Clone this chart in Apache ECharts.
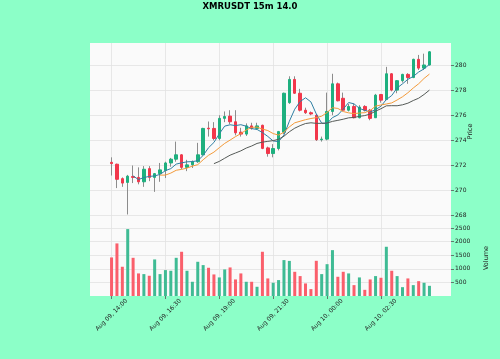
<!DOCTYPE html>
<html><head><meta charset="utf-8">
<script src="https://cdn.jsdelivr.net/npm/echarts@6/dist/echarts.min.js"></script>
<style>html,body{margin:0;padding:0;background:#8cffc8;}#c{width:500px;height:359px;}</style>
</head><body><div id="c"></div>
<script>
const chartTitle = 'XMRUSDT 15m 14.0';
const tickLabels = ['Aug 09, 14:00','Aug 09, 16:30','Aug 09, 19:00','Aug 09, 21:30','Aug 10, 00:00','Aug 10, 02:30'];
const tickBars = [0,10,20,30,40,50];
const opens = [272.25,272.1,270.95,270.65,271.12,271.05,270.7,271.75,271.05,271.35,
271.6,272.2,272.5,272.85,271.85,272.05,272.3,272.85,274.97,274.95,
274.15,275.75,275.93,275.48,274.65,274.5,275.15,274.95,275.2,273.4,
272.95,273.35,274.65,277.0,278.85,277.75,276.4,276.2,276.0,274.05,
274.1,276.3,278.5,277.35,276.4,276.7,275.8,276.7,276.4,275.8,
277.65,277.25,279.3,278.0,278.75,279.25,279.0,280.45,279.75,280.0];
const closes = [272.15,270.9,270.6,271.15,271.05,270.7,271.7,271.05,271.35,271.65,
272.2,272.5,272.85,271.85,272.05,272.3,272.85,274.95,274.92,274.15,
275.75,275.9,275.48,274.6,274.5,275.15,274.95,275.15,273.36,272.95,
273.35,274.7,277.75,278.85,277.75,276.4,276.2,276.1,274.05,274.1,
276.3,278.5,277.15,276.4,276.7,275.8,276.65,276.4,275.75,277.6,
277.2,279.3,278.0,278.75,279.25,279.0,280.45,279.75,280.0,281.05];
const highs = [272.65,272.15,271.05,271.25,272.0,271.85,271.95,271.95,271.4,272.2,
272.3,272.6,273.9,272.9,272.45,272.4,273.8,275.0,275.5,275.45,
276.0,276.3,276.4,276.4,275.0,275.35,275.4,275.4,275.25,273.5,
273.7,274.75,277.8,279.1,279.1,278.1,276.6,276.3,276.1,274.3,
277.8,279.3,278.6,277.8,276.9,276.9,276.8,276.8,276.5,277.7,
277.7,279.85,279.35,278.8,279.3,279.35,280.5,280.8,280.9,281.1];
const lows = [271.2,270.2,270.3,268.1,270.6,270.5,270.3,270.75,269.9,270.7,
271.0,271.9,272.3,271.7,271.55,271.8,272.2,272.8,274.3,274.0,
274.0,275.45,275.3,274.4,274.3,274.35,274.85,274.85,273.3,272.7,
272.65,273.2,274.5,276.9,277.7,276.3,276.1,276.0,273.95,273.9,
274.0,276.0,277.1,276.3,276.3,275.75,275.75,276.3,275.6,275.8,
277.0,277.2,277.9,277.75,278.6,278.5,278.95,279.6,279.6,279.95];
const volumes = [1418,1933,1075,2460,1404,830,805,744,1344,805,
952,928,1404,1626,928,523,1258,1136,1038,793,
683,977,1050,609,830,523,523,339,1626,646,
487,585,1320,1290,890,732,462,254,1294,805,
1170,1686,707,890,830,400,683,227,609,732,
670,1810,928,732,325,646,400,546,487,374];
const maWindows = [5,10,20];
const priceTicks = [268,270,272,274,276,278,280];
const volumeTicks = [500,1000,1500,2000,2500];

const PAD = 4;
const N = opens.length;
const cats = [];
for (let i = 0; i < N + 2*PAD; i++) cats.push(String(i));
const padded = arr => { const o = []; for (let i=0;i<PAD;i++) o.push('-'); arr.forEach(v=>o.push(v)); for (let i=0;i<PAD;i++) o.push('-'); return o; };

const UP = '#1eb07f', DOWN = '#f2374b';
const VUP = '#3fbb94', VDOWN = '#fa5f6b';
const WICK = '#8c8c8c';

const wickData = padded(opens.map((o,i)=>[o, closes[i], lows[i], highs[i]]));
const bodyData = padded(opens.map((o,i)=>[o, closes[i], Math.min(o,closes[i]), Math.max(o,closes[i])]));
const volData = padded(volumes.map((v,i)=>({value: v, itemStyle:{color: closes[i] >= opens[i] ? VUP : VDOWN}})));
function movingAverage(w){
  const out = [];
  for (let k=0;k<N;k++){
    if (k < w-1) { out.push(null); continue; }
    let s = 0; for (let j=k-w+1;j<=k;j++) s += closes[j];
    out.push(+(s/w).toFixed(4));
  }
  const o = []; for (let i=0;i<PAD;i++) o.push(null); out.forEach(v=>o.push(v)); for (let i=0;i<PAD;i++) o.push(null);
  return o;
}
const maColors = ['#2f7fa3','#f39a3a','#555a57'];
const isTick = idx => tickBars.indexOf(idx - PAD) >= 0;

const FONT = 'DejaVu Sans';
const gridLeft = 90, gridRight = 49;
const chart = echarts.init(document.getElementById('c'), null, {renderer:'canvas'});
chart.setOption({
  backgroundColor: '#8cffc8',
  animation: false,
  title: { text: chartTitle, left: 'center', top: 2, padding: 0, textStyle: { fontFamily: FONT, fontSize: 8.5, fontWeight: 'bold', color: '#000' } },
  grid: [
    { left: gridLeft, right: gridRight, top: 43, height: 177, show: true, backgroundColor: '#fafafa', borderWidth: 0 },
    { left: gridLeft, right: gridRight, top: 220, height: 76, show: true, backgroundColor: '#fafafa', borderWidth: 0 }
  ],
  xAxis: [
    { type: 'category', gridIndex: 0, data: cats, boundaryGap: false,
      axisLine: {show:false}, axisTick: {show:false}, axisLabel: {show:false},
      splitLine: { show: true, interval: (i)=>isTick(i), lineStyle: { color: '#e2e2e2', width: 0.8 } } },
    { type: 'category', gridIndex: 1, data: cats, boundaryGap: false,
      axisLine: {show:false},
      axisTick: { show: true, interval: (i)=>isTick(i), length: 3, lineStyle: { color: '#555', width: 0.8 } },
      axisLabel: { show: true, interval: (i)=>isTick(i), rotate: 45, align: 'center', verticalAlign: 'middle', margin: 19,
        fontFamily: FONT, fontSize: 6, color: '#222',
        formatter: (v, idx) => { const j = tickBars.indexOf(Number(v) - PAD); return j >= 0 ? tickLabels[j] : ''; } },
      splitLine: { show: true, interval: (i)=>isTick(i), lineStyle: { color: '#e2e2e2', width: 0.8 } } }
  ],
  yAxis: [
    { type: 'value', gridIndex: 0, position: 'right', min: 267.66, max: 281.75, scale: true,
      name: 'Price', nameLocation: 'middle', nameRotate: 90, nameGap: 16, nameMoveOverlap: false,
      nameTextStyle: { fontFamily: FONT, fontSize: 6.5, color: '#222' },
      axisLine: {show:false},
      axisTick: { show: true, length: 3, customValues: priceTicks, lineStyle: { color: '#555', width: 0.8 } },
      axisLabel: { show: true, customValues: priceTicks, margin: 4, fontFamily: FONT, fontSize: 6, color: '#222', formatter: v => String(v) },
      splitLine: { show: true, lineStyle: { color: '#e2e2e2', width: 0.8 } } },
    { type: 'value', gridIndex: 1, position: 'right', min: 0, max: 2794,
      name: 'Volume', nameLocation: 'middle', nameRotate: 90, nameGap: 32, nameMoveOverlap: false,
      nameTextStyle: { fontFamily: FONT, fontSize: 6.5, color: '#222' },
      axisLine: {show:false},
      axisTick: { show: true, length: 3, customValues: volumeTicks, lineStyle: { color: '#555', width: 0.8 } },
      axisLabel: { show: true, customValues: volumeTicks, margin: 4, fontFamily: FONT, fontSize: 6, color: '#222', formatter: v => String(v) },
      splitLine: { show: true, lineStyle: { color: '#e2e2e2', width: 0.8 } } }
  ],
  series: [
    { type: 'candlestick', name: 'wick', xAxisIndex: 0, yAxisIndex: 0, data: wickData, barWidth: 0.3,
      itemStyle: { color: WICK, color0: WICK, borderColor: WICK, borderColor0: WICK, borderWidth: 1 }, silent: true },
    { type: 'candlestick', name: 'body', xAxisIndex: 0, yAxisIndex: 0, data: bodyData, barWidth: 3,
      itemStyle: { color: UP, color0: DOWN, borderColor: UP, borderColor0: DOWN, borderWidth: 1 }, silent: true },
    ...maWindows.map((w, i) => ({ type: 'line', name: 'MA' + w, xAxisIndex: 0, yAxisIndex: 0, data: movingAverage(w),
      showSymbol: false, symbol: 'none', connectNulls: false, lineStyle: { color: maColors[i], width: 1 }, silent: true, z: 5 })),
    { type: 'bar', name: 'Volume', xAxisIndex: 1, yAxisIndex: 1, data: volData, barWidth: 3, silent: true }
  ]
});
</script></body></html>
